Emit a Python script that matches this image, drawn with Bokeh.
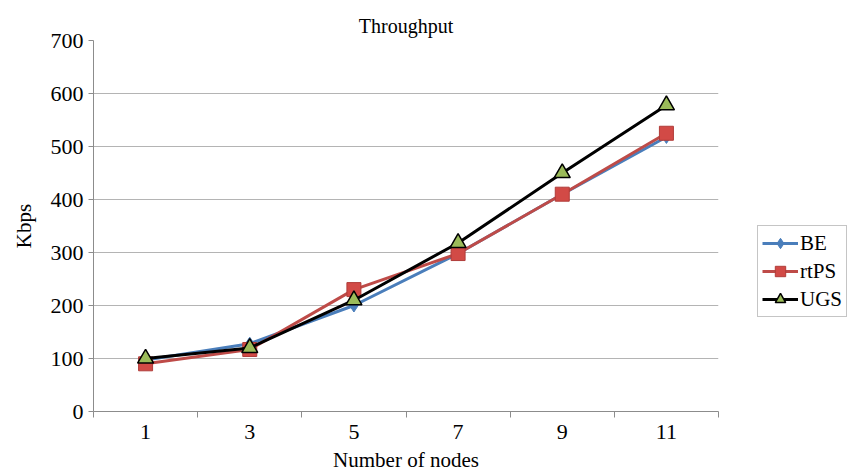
from bokeh.plotting import figure
from bokeh.models import FixedTicker, Range1d, Legend, LegendItem
from bokeh.embed import file_html
from bokeh.resources import INLINE

nodes = [1, 3, 5, 7, 9, 11]
be = [97, 128, 200, 298, 410, 518]
rtps = [90, 117, 230, 298, 410, 525]
ugs = [100, 120, 210, 318, 450, 578]
y_ticks = [0, 100, 200, 300, 400, 500, 600, 700]

FONT = "'Liberation Serif', 'Times New Roman', serif"

p = figure(frame_width=625, frame_height=371, output_backend="svg",
           toolbar_location=None, x_range=Range1d(0, 12), y_range=Range1d(0, 700),
           min_border_left=93, min_border_top=40, min_border_bottom=60,
           min_border_right=128, title="Throughput")
p.outline_line_color = None
p.background_fill_color = "white"
p.border_fill_color = "white"

p.title.align = "center"
p.title.text_font = FONT
p.title.text_font_size = "20px"
p.title.text_font_style = "normal"
p.title.text_color = "black"
p.title.offset = 0
p.title.standoff = 8

# x axis
p.xaxis.ticker = FixedTicker(ticks=nodes, minor_ticks=[0, 2, 4, 6, 8, 10, 12])
p.xaxis.major_tick_line_color = None
p.xaxis.minor_tick_line_color = "#8c8c8c"
p.xaxis.minor_tick_out = 6
p.xaxis.minor_tick_in = 0
p.xaxis.axis_line_color = "#8c8c8c"
p.xaxis.axis_label = "Number of nodes"
p.xaxis.major_label_standoff = 7
p.xaxis.axis_label_standoff = 6

# y axis
p.yaxis.ticker = FixedTicker(ticks=y_ticks)
p.yaxis.major_tick_line_color = "#8c8c8c"
p.yaxis.major_tick_out = 5
p.yaxis.major_tick_in = 0
p.yaxis.minor_tick_line_color = None
p.yaxis.axis_line_color = "#8c8c8c"
p.yaxis.axis_label = "Kbps"
p.yaxis.major_label_standoff = 5
p.yaxis.axis_label_standoff = 12

for ax in (p.xaxis, p.yaxis):
    ax.major_label_text_font = FONT
    ax.major_label_text_font_size = "22px"
    ax.major_label_text_color = "black"
    ax.axis_label_text_font = FONT
    ax.axis_label_text_font_size = "21px"
    ax.axis_label_text_font_style = "normal"
    ax.axis_label_text_color = "black"

p.xgrid.grid_line_color = None
p.ygrid.grid_line_color = "#b4b4b4"
p.ygrid.grid_line_width = 1

blue = "#4a7ebb"
red = "#be4b48"
green = "#9bbb59"

l1 = p.line(nodes, be, color=blue, line_width=3)
m1 = p.scatter(nodes, be, marker="diamond", size=13, fill_color=blue, line_color=blue)
l2 = p.line(nodes, rtps, color=red, line_width=3)
m2 = p.scatter(nodes, rtps, marker="square", size=14, fill_color="#d24a46", line_color="#b03c39")
l3 = p.line(nodes, ugs, color="black", line_width=3)
m3 = p.scatter(nodes, ugs, marker="triangle", size=16, fill_color=green, line_color="black", line_width=1.5)

legend = Legend(items=[
    LegendItem(label="BE", renderers=[l1, m1]),
    LegendItem(label="rtPS", renderers=[l2, m2]),
    LegendItem(label="UGS", renderers=[l3, m3]),
], location=(39, 94))
legend.label_text_font = FONT
legend.label_text_font_size = "21px"
legend.label_text_color = "black"
legend.border_line_color = "#8c8c8c"
legend.border_line_width = 1
legend.padding = 4
legend.spacing = 2
legend.margin = 0
legend.glyph_width = 36
legend.glyph_height = 26
legend.label_height = 26
legend.label_standoff = 2
p.add_layout(legend, "right")

open("out.html", "w").write(file_html(p, INLINE))
